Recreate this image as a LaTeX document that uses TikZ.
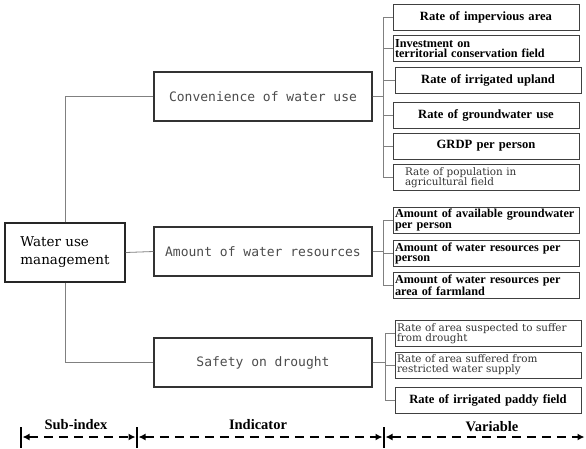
\documentclass[tikz,border=0pt]{standalone}
\usepackage{fontspec}
\setmainfont{Liberation Serif}
\newfontfamily\indfont{DejaVu Sans Mono}
\newfontfamily\rootfont{DejaVu Serif}
\usetikzlibrary{arrows.meta}

\begin{document}
\begin{tikzpicture}[x=1pt, y=-1pt,
  link/.style={gray, line width=0.8pt},
  rootbox/.style={draw=black!85, line width=1.4pt, minimum width=120pt, minimum height=59pt,
    align=left, font=\rootfont\fontsize{13.5}{18}\selectfont},
  ibox/.style={draw=black!80, line width=1.2pt, minimum width=218pt, minimum height=49pt,
    font=\indfont\fontsize{13}{15}\selectfont, text=black!70},
  vbox/.style={draw=black!75, line width=1pt, minimum width=186pt, minimum height=26pt,
    inner sep=2pt, text width=182pt},
  vbold/.style={vbox, align=center, font=\fontsize{12.6}{11}\selectfont\bfseries},
  vboldl/.style={vbox, align=left, font=\fontsize{12.2}{10.8}\selectfont\bfseries},
  vthin/.style={vbox, align=left, font=\rootfont\fontsize{10.4}{10.2}\selectfont, text=black!80},
  span/.style={{Latex[length=7pt,width=7pt]}-{Latex[length=7pt,width=7pt]}, line width=2.6pt,
    dash pattern=on 9pt off 6pt, shorten <=1.5pt, shorten >=1.5pt},
  bar/.style={line width=2.6pt},
  spanlabel/.style={font=\fontsize{14.5}{16}\selectfont\bfseries}]
 \useasboundingbox (0,0) rectangle (586,448);
 % sub-index
 \node[rootbox] (root) at (65,252.5) {Water use\\management};
 % indicators
 \node[ibox] (conv) at (263,96.5) {Convenience of water use};
 \node[ibox] (amount) at (263,251.5) {Amount of water resources};
 \node[ibox] (safety) at (263,362.5) {Safety on drought};
 % variables
 \node[vbold] (c1) at (486,17) {Rate of impervious area};
 \node[vboldl] (c2) at (486,48.5) {Investment on\\territorial conservation field};
 \node[vbold] (c3) at (488,80) {Rate of irrigated upland};
 \node[vbold] (c4) at (486,115) {Rate of groundwater use};
 \node[vbold] (c5) at (486,146) {GRDP per person};
 \node[vthin] (c6) at (486,177.5) {\hspace*{10pt}Rate of population in\\\hspace*{10pt}agricultural field};
 \node[vboldl] (a1) at (486,220) {Amount of available groundwater\\ per person};
 \node[vboldl] (a2) at (486,253.5) {Amount of water resources per\\person};
 \node[vboldl] (a3) at (486,285.5) {Amount of water resources per\\area of farmland};
 \node[vthin] (s1) at (488,333.5) {Rate of area suspected to suffer\\from drought};
 \node[vthin] (s2) at (488,365) {Rate of area suffered from\\restricted water supply};
 \node[vbold] (s3) at (488,400) {Rate of irrigated paddy field};
 % connectors
 \draw[link] (root.north) |- (conv.west);
 \draw[link] (root.east) -- (amount.west);
 \draw[link] (root.south) |- (safety.west);
 \foreach \v in {c1,c2,c3,c4,c5,c6}
  \draw[link] (conv.east) -- ++(11,0) |- (\v.west);
 \foreach \v in {a1,a2,a3}
  \draw[link] (amount.east) -- ++(11,0) |- (\v.west);
 \foreach \v in {s1,s2,s3}
  \draw[link] (safety.east) -- ++(13,0) |- (\v.west);
 % scale at the bottom
 \coordinate (b0) at (21,437);
 \coordinate (b1) at (137,437);
 \coordinate (b2) at (384,437);
 \coordinate (b3) at (586,437);
 \foreach \b in {b0,b1,b2}
  \draw[bar] (\b) ++(0,-10) -- ++(0,21);
 \draw[span] (b0) -- (b1);
 \draw[span] (b1) -- (b2);
 \draw[span] (b2) -- (b3);
 \node[spanlabel] (lsub) at (76,425) {Sub-index};
 \node[spanlabel] (lind) at (258,425) {Indicator};
 \node[spanlabel] (lvar) at (492,427) {Variable};
\end{tikzpicture}
\end{document}
